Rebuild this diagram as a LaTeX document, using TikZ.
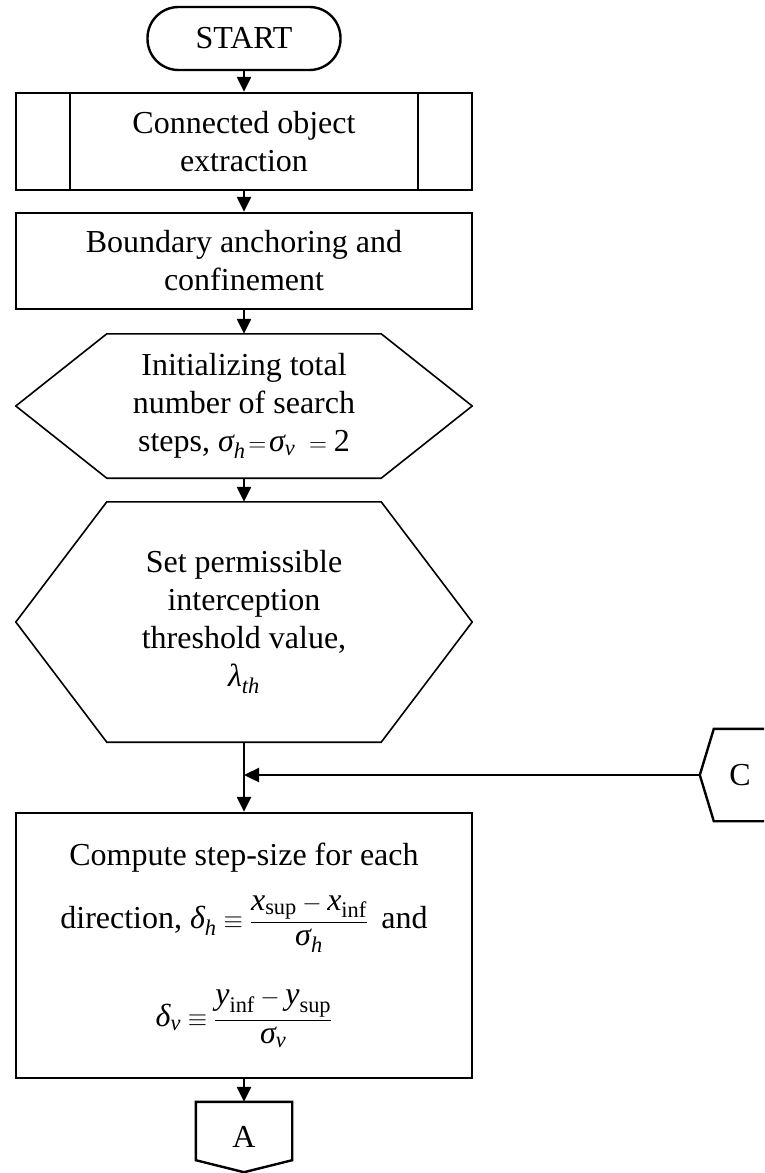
\documentclass[tikz,border=0pt]{standalone}
\usepackage{amsmath}
\usepackage{fontspec}
\setmainfont{Liberation Serif}
\usetikzlibrary{arrows.meta}
\newcommand{\vi}[1]{\textit{#1}}

\begin{document}
\begin{tikzpicture}[x=1pt,y=-1pt,
  txt/.style={font=\fontsize{32}{38}\selectfont,align=center,inner sep=0pt},
  box/.style={txt,draw,line width=2.4pt,minimum width=456pt},
  hexa/.style={txt,minimum width=456pt},
  arr/.style={line width=2.4pt,-{Triangle[length=15pt,width=14pt]}},
  thin/.style={line width=1.6pt}]

  \clip (0,0) rectangle (764,1173);

  \node[txt,draw,line width=2.4pt,rounded corners=31pt,minimum width=193pt,minimum height=63pt] (start) at (244,38.5) {START};
  \node[box,minimum height=97pt] (extr) at (244,141.5) {Connected object\\extraction};
  \node[box,minimum height=96pt] (anch) at (244,261) {Boundary anchoring and\\confinement};
  \node[hexa,minimum height=144pt] (init) at (244,406) {Initializing total\\number of search\\steps, $\vi{σ}_{\vi{h}}\!=\!\vi{σ}_{\vi{v}}\;=\textup{2}$};
  \node[hexa,minimum height=240pt] (thr) at (244,622) {Set permissible\\interception\\threshold value,\\$\vi{λ}_{\vi{th}}$};
  \coordinate (join) at (244,775);
  \node[box,minimum height=265pt] (comp) at (244,945.5) {Compute step-size for each\\[22pt]
    direction, $\vi{δ}_{\vi{h}}\equiv\dfrac{\vi{x}_{\textup{sup}}-\vi{x}_{\textup{inf}}}{\vi{σ}_{\vi{h}}}$\, and\\[36pt]
    $\vi{δ}_{\vi{v}}\equiv\dfrac{\vi{y}_{\textup{inf}}-\vi{y}_{\textup{sup}}}{\vi{σ}_{\vi{v}}}$};
  \node[txt,minimum width=96pt,minimum height=70pt] (pa) at (244,1137) {A};
  \node[txt,minimum width=80pt,minimum height=92pt] (pc) at (740,775) {C};

  \draw[line width=2.4pt] ([xshift=55pt]extr.north west) -- ([xshift=55pt]extr.south west);
  \draw[line width=2.4pt] ([xshift=-55pt]extr.north east) -- ([xshift=-55pt]extr.south east);

  \draw[thin] (init.west) -- ([xshift=91pt]init.north west) -- ([xshift=-91pt]init.north east) -- (init.east)
    -- ([xshift=-91pt]init.south east) -- ([xshift=91pt]init.south west) -- cycle;
  \draw[thin] (thr.west) -- ([xshift=91pt]thr.north west) -- ([xshift=-91pt]thr.north east) -- (thr.east)
    -- ([xshift=-91pt]thr.south east) -- ([xshift=91pt]thr.south west) -- cycle;

  \draw[line width=2.4pt] (pa.north west) -- (pa.north east) -- ([yshift=12pt]pa.south east) -- (pa.south)
    -- ([yshift=12pt]pa.south west) -- cycle;
  \draw[line width=2.4pt] (pc.north east) -- ([xshift=14pt]pc.north west) -- (pc.west)
    -- ([xshift=14pt]pc.south west) -- (pc.south east);

  \draw[arr] (start) -- (extr);
  \draw[arr] (extr) -- (anch);
  \draw[arr] (anch) -- (init);
  \draw[arr] (init) -- (thr);
  \draw[arr] (thr) -- (comp);
  \draw[arr] (pc.west) -- (join);
  \draw[arr] (comp) -- (pa);
\end{tikzpicture}
\end{document}
